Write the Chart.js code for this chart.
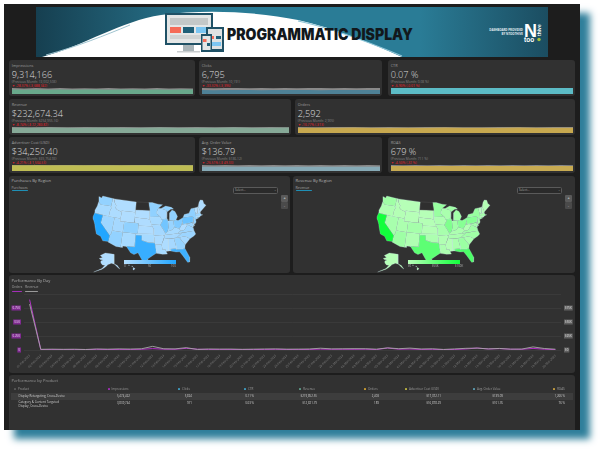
<!DOCTYPE html>
<html>
<head>
<meta charset="utf-8">
<title>Programmatic Display</title>
<script src="https://cdn.jsdelivr.net/npm/chart.js@4/dist/chart.umd.min.js"></script>
<style>
html, body { margin: 0; padding: 0; background: #fff; width: 600px; height: 450px; overflow: hidden; font-family: "Open Sans", sans-serif; }
#frame { position: absolute; left: 4px; top: 4px; width: 576px; height: 426px; background: #1d1d1d; box-shadow: 10px 9px 7px #2f7f9b; }
.box { position: absolute; background: #313131; border-radius: 3px; }
.txt { position: absolute; white-space: nowrap; line-height: 1; }
canvas { position: absolute; display: block; }
svg { position: absolute; left: 36px; top: 7px; }
</style>
</head>
<body>
<div id="frame"></div>
<svg width="512" height="50" viewBox="0 0 512 50">
  <defs>
    <linearGradient id="teal" x1="0" x2="1" y1="0" y2="0">
      <stop offset="0" stop-color="#163f50"/>
      <stop offset="0.35" stop-color="#2a7c96"/>
      <stop offset="0.75" stop-color="#2a7c96"/>
      <stop offset="1" stop-color="#1b4d61"/>
    </linearGradient>
  </defs>
  <rect width="512" height="50" fill="url(#teal)"/>
  <path d="M6 50 C50 38 85 14 125 8 C170 2 225 5 262 13 C300 22 335 36 366 50 Z" fill="#fff"/>
  <path d="M10 48 C40 40 70 28 94 18" stroke="#9fc4d0" stroke-width="1" fill="none"/>
  <path d="M262 14 C300 22 335 36 366 49" stroke="#8fc6d8" stroke-width="1.2" fill="none"/>
  <!-- devices -->
  <rect x="129" y="6" width="48" height="32" fill="#1f5166"/>
  <rect x="131" y="8" width="44" height="28" fill="#e4e6e6"/>
  <rect x="134" y="11" width="38" height="7" fill="#c4c8c8"/>
  <rect x="134" y="20" width="11" height="6" fill="#f56b57"/>
  <rect x="147" y="20" width="11" height="6" fill="#1f5f78"/>
  <rect x="160" y="20" width="10" height="6" fill="#7cc6f2"/>
  <rect x="134" y="28" width="36" height="4" fill="#d0d3d3"/>
  <rect x="147" y="38" width="11" height="6" fill="#a9b4b8"/>
  <rect x="141" y="44" width="23" height="1.5" fill="#c9cdcf"/>
  <rect x="170" y="20" width="18" height="25" fill="#1f5166"/>
  <rect x="172" y="22" width="14" height="20" fill="#dfe2e2"/>
  <rect x="173" y="29" width="5" height="3" fill="#f56b57"/>
  <rect x="180" y="29" width="5" height="3" fill="#1f5f78"/>
  <rect x="173" y="35" width="12" height="4" fill="#7cc6f2"/>
  <rect x="165" y="27" width="11" height="18" fill="#1f5166"/>
  <rect x="166.5" y="29" width="8" height="14" fill="#e4e6e6"/>
  <rect x="167" y="32" width="3.5" height="3" fill="#f56b57"/>
  <rect x="171" y="36" width="3" height="3" fill="#1f5f78"/>
  <text x="191" y="33" textLength="186" lengthAdjust="spacingAndGlyphs" font-family="Inter" font-weight="900" font-size="15.5" fill="#12181c">PROGRAMMATIC DISPLAY</text>
  <text x="487" y="24" text-anchor="end" font-family="Open Sans" font-weight="700" font-size="2.9" fill="#e6eef1">DASHBOARD PROVIDED</text>
  <text x="487" y="28" text-anchor="end" font-family="Open Sans" font-weight="700" font-size="2.9" fill="#e6eef1">BY NTOOTHIVE</text>
  <text x="488" y="29.5" font-family="Liberation Sans" font-weight="700" font-size="18" fill="#fff">N</text>
  <text x="488" y="35" font-family="Liberation Sans" font-weight="700" font-size="6.5" fill="#fff">too</text>
  <text transform="translate(505 29) rotate(-90)" font-family="Liberation Sans" font-weight="700" font-size="5" fill="#fff">thive</text>
  <circle cx="503" cy="32.5" r="1.7" fill="#a5c23a"/>
</svg>

<script>
// kpi cards
const kpiTitles = ["Impressions", "Clicks", "CTR", "Revenue", "Orders", "Advertiser Cost (USD)", "Avg. Order Value", "ROAS"];
const kpiValues = ["9,314,166", "6,795", "0.07 %", "$232,674.34", "2,592", "$34,250.40", "$136.79", "679 %"];
const kpiPrevious = ["13,002,508", "10,191", "0.08 %", "$254,955.16", "2,905", "$35,754.93", "$186.12", "711 %"];
const kpiChanges = ["-28.37% (-3,688,342)", "-33.32% (-3,396)", "-6.90% (-0.01 %)", "-8.74% (-$ 22,280.82)", "-10.77% (-313)", "-4.21% (-$ 1,504.53)", "-26.51% (-$ 49.33)", "-4.50% (-32 %)"];
const kpiColors = ["#68a98b", "#4e8196", "#5cbcc6", "#86a997", "#c7a84f", "#bfbd54", "#86aab6", "#c8ab52"];

const impressionsNow = [192, 190, 193, 191, 194, 190, 192, 193, 191, 194, 192, 190, 193, 191, 192, 194];
const impressionsPrev = [262, 240, 258, 236, 260, 244, 255, 238, 262, 242, 256, 240, 260, 238, 254, 244];
const clicksNow = [140, 138, 142, 139, 141, 138, 140, 142, 139, 141, 138, 140, 142, 139, 140, 141];
const clicksPrev = [212, 205, 210, 214, 206, 212, 208, 214, 204, 210, 212, 206, 214, 208, 210, 212];
const ctrNow = [7, 7, 7, 7, 7, 7, 7, 7, 7, 7, 7, 7, 7, 7, 7, 7];
const ctrPrev = [7, 7, 7, 7, 7, 7, 7, 7, 7, 7, 7, 7, 7, 7, 7, 7];
const revenueNow = [47, 47, 48, 47, 47, 48, 47, 47, 48, 47, 47, 47, 48, 47, 47, 48];
const revenuePrev = [52, 50, 53, 50, 52, 51, 53, 50, 52, 50, 53, 51, 52, 50, 53, 51];
const ordersNow = [54, 53, 54, 55, 54, 53, 54, 53, 55, 54, 53, 54, 55, 54, 53, 54];
const ordersPrev = [60, 58, 60, 61, 59, 60, 58, 61, 60, 59, 58, 60, 61, 59, 60, 61];
const costNow = [71, 71, 72, 71, 71, 72, 71, 71, 72, 71, 71, 71, 72, 71, 71, 72];
const costPrev = [74, 73, 75, 73, 74, 75, 73, 74, 74, 73, 75, 74, 73, 75, 74, 73];
const aovNow = [136, 135, 137, 136, 137, 135, 136, 137, 136, 135, 137, 136, 137, 135, 136, 137];
const aovPrev = [186, 180, 188, 182, 186, 184, 188, 180, 186, 182, 188, 184, 186, 180, 188, 182];
const roasNow = [679, 678, 680, 679, 680, 678, 679, 680, 679, 678, 680, 679, 680, 678, 679, 680];
const roasPrev = [800, 780, 810, 790, 805, 785, 800, 790, 810, 780, 805, 790, 800, 785, 810, 790];

// performance by day
const dayLabels = ["01-Feb-2023", "02-Feb-2023", "03-Feb-2023", "04-Feb-2023", "05-Feb-2023", "06-Feb-2023", "07-Feb-2023", "08-Feb-2023", "09-Feb-2023", "10-Feb-2023", "11-Feb-2023", "12-Feb-2023", "13-Feb-2023", "14-Feb-2023", "15-Feb-2023", "16-Feb-2023", "17-Feb-2023", "18-Feb-2023", "19-Feb-2023", "20-Feb-2023", "21-Feb-2023", "22-Feb-2023", "23-Feb-2023", "24-Feb-2023", "25-Feb-2023", "26-Feb-2023", "27-Feb-2023", "28-Feb-2023", "01-Mar-2023", "02-Mar-2023", "03-Mar-2023", "04-Mar-2023", "05-Mar-2023", "06-Mar-2023", "07-Mar-2023", "08-Mar-2023", "09-Mar-2023", "10-Mar-2023", "11-Mar-2023", "12-Mar-2023", "13-Mar-2023", "14-Mar-2023", "15-Mar-2023", "16-Mar-2023", "17-Mar-2023", "18-Mar-2023", "19-Mar-2023", "20-Mar-2023"];
const ordersByDay = [900, 6, 8, 6, 8, 5, 12, 8, 10, 9, 12, 25, 14, 12, 30, 14, 10, 10, 9, 8, 8, 10, 12, 9, 8, 10, 16, 12, 13, 12, 14, 8, 35, 14, 18, 10, 12, 6, 10, 18, 35, 18, 24, 14, 12, 28, 14, 6];
const revenueByDay = [82000, 1200, 1500, 1200, 1400, 900, 1800, 1500, 2000, 1700, 2200, 6500, 2200, 2000, 4200, 1000, 1800, 1600, 1700, 1200, 1500, 1800, 2000, 1500, 1600, 1800, 3200, 2000, 2200, 2400, 2300, 1500, 3800, 2300, 3400, 1800, 2200, 1000, 1900, 3000, 3400, 2000, 2800, 1500, 1700, 5500, 2700, 1400];
const ordersTicks = ["0", "0.25K", "0.5K", "0.75K", ""];
const revenueTicks = ["$0", "$25K", "$50K", "$75K", ""];

// table
const productColumns = ["Product", "Impressions", "Clicks", "CTR", "Revenue", "Orders", "Advertiser Cost (USD)", "Avg. Order Value", "ROAS"];
const rowOneValues = ["Display Retargeting, Cross-Device", "5,474,422", "5,824", "0.11 %", "$219,852.55", "2,403", "$17,372.11", "$139.09", "1,266 %"];
const rowTwoValues = ["Category & Content Targeted|Display, Cross-Device", "3,839,744", "971", "0.03 %", "$12,821.79", "189", "$16,878.29", "$101.76", "76 %"];

// states, Alaska and Hawaii last; some states have more than one outline
const stateCodes = ["WA", "OR", "CA", "NV", "ID", "MT", "WY", "UT", "AZ", "CO", "NM", "ND", "SD", "NE", "KS", "OK", "TX", "MN", "IA", "MO", "AR", "LA", "WI", "IL", "MI", "MI", "IN", "OH", "KY", "TN", "MS", "AL", "GA", "FL", "SC", "NC", "VA", "WV", "MD", "DE", "PA", "NJ", "NY", "VT", "NH", "ME", "MA", "CT", "RI", "AK", "HI", "HI", "HI", "HI"];
const purchasesValues = [22, 8, 100, 14, 4, 2, 2, 10, 22, 24, 8, null, 2, 3, 3, 8, 85, 24, 8, 10, 5, 8, 10, 45, 24, 24, 18, 35, 8, 10, 4, 10, 20, 80, 10, 16, 16, 3, 18, 3, 50, 20, 25, 2, 3, 3, 15, 8, 3, 2, 3, 3, 3, 3];
const revenueValues = [15, 6, 100, 10, 3, 2, 2, 8, 16, 12, 6, null, 2, 3, 3, 7, 55, 20, 6, 10, 5, 8, 9, 35, 15, 15, 14, 30, 8, 9, 3, 9, 18, 65, 9, 15, 15, 3, 13, 2, 30, 14, 20, 2, 3, 3, 12, 7, 2, 2, 2, 2, 2, 2];
const stateOutlines = [
  [[-124.7,48.4],[-123,48.2],[-122.8,49],[-117,49],[-117,46],[-119,45.9],[-121.2,45.7],[-122.3,45.6],[-123.5,46.2],[-124,46.3]],
  [[-124,46.3],[-123.5,46.2],[-122.3,45.6],[-121.2,45.7],[-119,45.9],[-117,46],[-116.5,45.5],[-117,44.3],[-117,42],[-124.2,42],[-124.5,43],[-124,44.8]],
  [[-124.2,42],[-120,42],[-120,39],[-114.6,35],[-114.7,32.7],[-117.1,32.5],[-118.5,34],[-120.6,34.5],[-122,36.8],[-122.5,37.8],[-123.8,39.5],[-124.4,40.4]],
  [[-120,42],[-114,42],[-114,36.2],[-114.6,35],[-120,39]],
  [[-117,49],[-116,49],[-116,48],[-114.4,46.6],[-114.5,45.6],[-113.5,45.1],[-111,44.5],[-111,42],[-117,42],[-117,44.3],[-116.5,45.5],[-117,46]],
  [[-116,49],[-104,49],[-104,45],[-111,45],[-111,44.5],[-113.5,45.1],[-114.5,45.6],[-114.4,46.6],[-116,48]],
  [[-111,45],[-104,45],[-104,41],[-111,41]],
  [[-114,42],[-111,42],[-111,41],[-109,41],[-109,37],[-114,37]],
  [[-114,37],[-109,37],[-109,31.3],[-111,31.3],[-114.8,32.5],[-114.7,32.7],[-114.6,35],[-114,36.2]],
  [[-109,41],[-102,41],[-102,37],[-109,37]],
  [[-109,37],[-103,37],[-103,32],[-106.6,32],[-106.5,31.8],[-108.2,31.8],[-108.2,31.3],[-109,31.3]],
  [[-104,49],[-97.2,49],[-96.6,46],[-104,46]],
  [[-104,46],[-96.6,46],[-96.5,42.5],[-98,42.8],[-104,43]],
  [[-104,43],[-98,42.8],[-96.5,42.5],[-95.3,40],[-102,40],[-102,41],[-104,41]],
  [[-102,40],[-95.3,40],[-94.6,39],[-94.6,37],[-102,37]],
  [[-103,37],[-94.6,37],[-94.4,35.4],[-94.5,33.7],[-97,33.8],[-100,34.6],[-100,36.5],[-103,36.5]],
  [[-106.6,32],[-103,32],[-103,36.5],[-100,36.5],[-100,34.6],[-97,33.8],[-94.5,33.7],[-94,33],[-93.8,31.5],[-93.7,29.7],[-95,29],[-97.3,27.5],[-97.2,26],[-99.2,26.5],[-101.4,29.8],[-103,29],[-104.5,29.6],[-106.5,31.8]],
  [[-97.2,49],[-95.2,49],[-92,48.3],[-89.6,48],[-92,46.7],[-92.8,45.5],[-92.8,44.7],[-91.2,43.5],[-96.5,43.5],[-96.6,46]],
  [[-96.5,43.5],[-91.2,43.5],[-90.2,41.8],[-91.4,40.4],[-95.7,40.6],[-96.5,42.5]],
  [[-95.7,40.6],[-91.4,40.4],[-90.2,38.8],[-89.2,37],[-89.7,36],[-90.4,36.5],[-94.6,36.5],[-94.6,39],[-95.3,40]],
  [[-94.6,36.5],[-90.4,36.5],[-89.7,36],[-91.2,33],[-94,33],[-94.5,33.7],[-94.4,35.4]],
  [[-94,33],[-91.2,33],[-91,31],[-89.7,31],[-89.5,30.2],[-89,29.2],[-91,29.2],[-93.7,29.7],[-93.8,31.5]],
  [[-92,46.7],[-90.5,46.6],[-88,45.8],[-87.6,45.1],[-87.9,43],[-87.8,42.5],[-90.6,42.5],[-91.2,43.5],[-92.8,44.7],[-92.8,45.5]],
  [[-90.6,42.5],[-87.8,42.5],[-87.5,41.7],[-87.5,39.3],[-88.1,37.8],[-89.2,37],[-90.2,38.8],[-91.4,40.4],[-90.2,41.8]],
  [[-86.8,41.8],[-84.8,41.7],[-83.5,41.7],[-82.5,43],[-82.9,44],[-83.4,45],[-84.8,45.7],[-86.2,44.7],[-86.3,43]],
  [[-90.5,46.6],[-88,47.4],[-85,46.7],[-84,46],[-85.5,46],[-87.6,45.1],[-88,45.8]],
  [[-87.5,41.7],[-84.8,41.7],[-84.8,39.1],[-85.5,38.5],[-86.5,38],[-88.1,37.8],[-87.5,39.3]],
  [[-84.8,41.7],[-83.5,41.7],[-82.5,41.4],[-80.5,42],[-80.5,40.6],[-81.7,39],[-82.6,38.4],[-84.8,39.1]],
  [[-89.4,36.5],[-83.7,36.6],[-82,37.5],[-82.6,38.4],[-84.8,39.1],[-85.5,38.5],[-86.5,38],[-88.1,37.8],[-89.2,37]],
  [[-90.1,35],[-84.3,35],[-81.7,36.6],[-83.7,36.6],[-89.4,36.5],[-89.7,36]],
  [[-91.2,33],[-90.1,35],[-88.2,35],[-88.4,30.3],[-89.5,30.2],[-89.7,31],[-91,31]],
  [[-88.2,35],[-85.6,35],[-85,32],[-85,31],[-87.6,31],[-87.5,30.3],[-88.4,30.3]],
  [[-85.6,35],[-83.1,35],[-81,32],[-81.4,30.7],[-82.2,30.5],[-84.9,30.7],[-85,32]],
  [[-87.6,31],[-85,31],[-84.9,30.7],[-82.2,30.5],[-81.4,30.7],[-80,27],[-80.4,25.2],[-81.2,25.2],[-82.7,28],[-83.8,29.6],[-85.3,29.7],[-87.5,30.3]],
  [[-83.1,35],[-81,35.1],[-79.7,34.8],[-78.5,33.9],[-81,32]],
  [[-84.3,35],[-83.1,35],[-81,35.1],[-79.7,34.8],[-78.5,33.9],[-76.5,34.7],[-75.5,35.3],[-75.9,36.6],[-81.7,36.6]],
  [[-83.7,36.6],[-75.9,36.6],[-76,37.9],[-77.2,38.5],[-78.3,39.4],[-80.3,37.5],[-82,37.5]],
  [[-82.6,38.4],[-82,37.5],[-80.3,37.5],[-78.3,39.4],[-79.5,39.7],[-80.5,39.7],[-80.5,40.6],[-81.7,39]],
  [[-79.5,39.7],[-75.8,39.7],[-75.7,38.5],[-76,38],[-77.2,38.5],[-78.3,39.4]],
  [[-75.8,39.7],[-75.4,39.8],[-75.1,38.4],[-75.7,38.5]],
  [[-80.5,42],[-79.8,42.3],[-75.3,42],[-74.7,41.4],[-75.4,39.8],[-80.5,39.7]],
  [[-74.7,41.4],[-74,41],[-74,39.7],[-74.9,38.9],[-75.4,39.8]],
  [[-79.8,42.3],[-79,43.3],[-76.5,43.5],[-75,45],[-73.3,45],[-73.3,42.7],[-73.5,41.2],[-72,41],[-74,40.6],[-74,41],[-74.7,41.4],[-75.3,42]],
  [[-73.3,45],[-71.5,45],[-72.5,42.7],[-73.3,42.7]],
  [[-71.5,45],[-71,45.3],[-70.7,43],[-71,42.7],[-72.5,42.7]],
  [[-71,45.3],[-70,46.7],[-69,47.4],[-67.8,47],[-67.8,45.7],[-67,44.8],[-70.7,43]],
  [[-73.3,42.7],[-71,42.7],[-70.7,42],[-70,41.7],[-71.4,41.5],[-73.5,42]],
  [[-73.5,42],[-71.8,42],[-71.8,41.3],[-73.6,41]],
  [[-71.8,42],[-71.4,42],[-71.2,41.5],[-71.8,41.3]],
  [[-141,69.7],[-141,60.2],[-135,58.5],[-130.5,55],[-133,56],[-137,58],[-140,59.8],[-146,60.7],[-149,60],[-152,59.5],[-154,58.3],[-158,56.5],[-163,54.8],[-178,52],[-163,55.4],[-157.5,58.7],[-162,59],[-165,61],[-165,63],[-161,64],[-166,64.6],[-168,65.6],[-162,66.5],[-166,68.5],[-157,71],[-150,70.5]],
  [[-155.9,20.2],[-155,19.7],[-155.6,19],[-156,19.6]],
  [[-156.7,21],[-156,20.8],[-156.4,20.6]],
  [[-158.2,21.6],[-157.7,21.4],[-158.1,21.3]],
  [[-159.7,22.2],[-159.3,22.1],[-159.5,21.9]]
];

const frame = document.body;

function addBox(left, top, width, height) {
  const el = document.createElement("div");
  el.className = "box";
  el.style.cssText = `left:${left}px;top:${top}px;width:${width}px;height:${height}px`;
  frame.appendChild(el);
  return el;
}

function addText(text, left, top, size, color, extra) {
  const el = document.createElement("div");
  el.className = "txt";
  el.textContent = text;
  el.style.cssText = `left:${left}px;top:${top}px;font-size:${size}px;color:${color};${extra || ""}`;
  frame.appendChild(el);
  return el;
}

function addCanvas(left, top, width, height) {
  const c = document.createElement("canvas");
  c.width = width;
  c.height = height;
  c.style.cssText = `left:${left}px;top:${top}px;width:${width}px;height:${height}px`;
  frame.appendChild(c);
  return c;
}

function drawSparkline(left, top, width, height, now, prev, color) {
  new Chart(addCanvas(left, top, width, height), {
    type: "line",
    data: {
      labels: now.map((_, i) => i),
      datasets: [
        { data: now, borderWidth: 0, backgroundColor: color, fill: "origin", pointRadius: 0, order: 1 },
        { data: prev, borderWidth: 0, backgroundColor: "#8a8a8a", fill: "origin", pointRadius: 0, order: 2 }
      ]
    },
    options: {
      responsive: false,
      animation: false,
      plugins: { legend: { display: false }, tooltip: { enabled: false } },
      layout: { padding: 0 },
      scales: {
        x: { display: false },
        y: { display: false, min: 0, max: Math.max(...prev, ...now) }
      }
    }
  });
}

const kpiBoxes = [
  [9, 60, 186, 36], [199, 60, 183, 36], [388, 60, 187, 36],
  [9, 99, 282, 36], [295, 99, 280, 36],
  [9, 137, 186, 36], [199, 137, 183, 36], [388, 137, 187, 36]
];
const kpiTrends = [
  [impressionsNow, impressionsPrev], [clicksNow, clicksPrev], [ctrNow, ctrPrev],
  [revenueNow, revenuePrev], [ordersNow, ordersPrev],
  [costNow, costPrev], [aovNow, aovPrev], [roasNow, roasPrev]
];

kpiBoxes.forEach(([left, top, width, height], i) => {
  addBox(left, top, width, height);
  const x = left + 2.7;
  addText(kpiTitles[i], x, top + 4, 3.8, "#9c9c9c");
  addText(kpiValues[i], x, top + 10, 9.2, "#dcdcdc", "font-weight:300");
  addText("(Previous Month: " + kpiPrevious[i] + ")", x, top + 20.4, 3.3, "#858585");
  addText("▼ " + kpiChanges[i], x, top + 24.4, 3.3, "#c9242c", "font-weight:600");
  drawSparkline(Math.round(x), top + 28, width - 5, 6, kpiTrends[i][0], kpiTrends[i][1], kpiColors[i]);
});

function albers(lon, lat) {
  const rad = Math.PI / 180;
  const phi1 = 29.5 * rad, phi2 = 45.5 * rad, phi0 = 37.5 * rad;
  const n = (Math.sin(phi1) + Math.sin(phi2)) / 2;
  const c = Math.cos(phi1) ** 2 + 2 * n * Math.sin(phi1);
  const rho = p => Math.sqrt(c - 2 * n * Math.sin(p)) / n;
  const theta = n * (lon + 96) * rad;
  const r = rho(lat * rad);
  return { x: r * Math.sin(theta), y: rho(phi0) - r * Math.cos(theta) };
}

function blend(from, to, t) {
  const mix = from.map((v, i) => Math.round(v + (to[i] - v) * t));
  return `rgb(${mix[0]},${mix[1]},${mix[2]})`;
}

function drawMap(left, top, values, light, strong) {
  const width = 124, height = 84;
  const lower48 = stateOutlines.slice(0, 49).flat().map(p => albers(p[0], p[1]));
  const xs = lower48.map(p => p.x), ys = lower48.map(p => p.y);
  const x0 = Math.min(...xs), x1 = Math.max(...xs), y0 = Math.min(...ys), y1 = Math.max(...ys);
  const kx = (x1 - x0) / 113, ky = (y1 - y0) / 67;
  const xMin = x0 - 5 * kx, yMax = y1 + 6 * ky;

  const toMapPoint = (point, i) => {
    const code = stateCodes[i];
    if (code === "AK") {
      return { x: xMin + (20 + (point[0] + 152) * 0.55) * kx, y: yMax - (71 - (point[1] - 63)) * ky };
    }
    if (code === "HI") {
      return { x: xMin + (42 + (point[0] + 157.5) * 2) * kx, y: yMax - (77 - (point[1] - 20.5) * 2) * ky };
    }
    return albers(point[0], point[1]);
  };

  const datasets = stateOutlines.map((outline, i) => {
    const points = outline.concat([outline[0]]).map(p => toMapPoint(p, i));
    const value = values[i];
    return {
      label: stateCodes[i],
      data: points,
      showLine: true,
      fill: "shape",
      tension: 0,
      pointRadius: 0,
      borderWidth: 0.4,
      borderColor: value === null ? "#555" : "rgba(205,225,235,0.6)",
      backgroundColor: value === null ? "#2f2f2f" : blend(light, strong, value / 100)
    };
  });

  new Chart(addCanvas(left, top, width, height), {
    type: "scatter",
    data: { datasets: datasets },
    options: {
      responsive: false,
      animation: false,
      plugins: { legend: { display: false }, tooltip: { enabled: false } },
      layout: { padding: 0 },
      scales: {
        x: { display: false, min: xMin, max: xMin + width * kx },
        y: { display: false, max: yMax, min: yMax - height * ky }
      }
    }
  });
}

function drawRegion(left, width, title, tab, values, light, strong, legendTicks) {
  addBox(left, 176, width, 97);
  addText(title, left + 2.5, 179, 4.1, "#b4b4b4");
  addText(tab, left + 2.5, 186, 3.4, "#a0a0a0");
  const line = addBox(left + 2.5, 190.3, 16, 0.7);
  line.style.background = "#1f8fb5";
  drawMap(left + 79, 190, values, light, strong);

  const bar = addBox(left + 115, 260, 52, 3.5);
  bar.style.borderRadius = "0";
  bar.style.background = `linear-gradient(90deg, ${blend(light, strong, 0)}, ${blend(light, strong, 1)})`;
  addText(legendTicks[0], left + 115, 265, 2.8, "#b5b5b5");
  addText(legendTicks[1], left + 139, 265, 2.8, "#b5b5b5");
  addText(legendTicks[2], left + 162, 265, 2.8, "#b5b5b5");

  const select = addBox(left + 224, 187, 45, 7);
  select.style.cssText += ";background:#2a2a2a;border:0.6px solid #5a5a5a;box-sizing:border-box;border-radius:1.5px";
  addText("Select...", left + 226, 189, 3, "#a8a8a8");
  addText("⌄", left + 265, 188.5, 3, "#a8a8a8");

  const plus = addBox(left + 272, 195, 7, 7);
  plus.style.cssText += ";background:#5a5a5a;border-radius:1px";
  const minus = addBox(left + 272, 202.4, 7, 7);
  minus.style.cssText += ";background:#4a4a4a;border-radius:1px";
  addText("+", left + 274.4, 196.3, 4.2, "#eee");
  addText("-", left + 274.7, 203.6, 4.2, "#ccc");
}

drawRegion(9, 281, "Purchases By Region", "Purchases", purchasesValues, [179, 222, 255], [34, 166, 255], ["0", "50", "100"]);
drawRegion(293, 282, "Revenue By Region", "Revenue", revenueValues, [185, 255, 185], [18, 255, 60], ["$0", "$50K", "$100K"]);

// performance by day
addBox(9, 275, 566, 98);
addText("Performance By Day", 11.5, 279, 4.1, "#b4b4b4");
addText("Orders", 11.7, 285.4, 3.3, "#a0a0a0");
addText("Revenue", 25, 285.4, 3.3, "#a0a0a0");
addBox(11.5, 290.5, 10.5, 0.7).style.background = "#a32fb8";
addBox(25, 290.5, 13, 0.7).style.background = "#9a9a9a";

function fitWidth(size) {
  return scale => { scale.width = size; };
}

new Chart(addCanvas(9, 288, 566, 85), {
  type: "line",
  data: {
    labels: dayLabels,
    datasets: [
      { label: "Orders", data: ordersByDay, yAxisID: "y", borderColor: "#b22fc6", borderWidth: 1, pointRadius: 0, tension: 0, order: 2 },
      { label: "Revenue", data: revenueByDay, yAxisID: "yRevenue", borderColor: "#a8a8a8", borderWidth: 0.9, pointRadius: 0, tension: 0, order: 1 }
    ]
  },
  options: {
    responsive: false,
    animation: false,
    plugins: { legend: { display: false }, tooltip: { enabled: false } },
    layout: { padding: { top: 6 } },
    scales: {
      x: {
        offset: true,
        grid: { display: false, drawTicks: false },
        border: { display: false },
        afterFit: scale => { scale.height = 23; },
        ticks: { autoSkip: false, minRotation: 45, maxRotation: 45, padding: 4, font: { size: 3, family: "Open Sans" }, color: "#808080" }
      },
      y: {
        position: "left",
        min: 0,
        max: 1000,
        afterFit: fitWidth(15),
        grid: { color: "#414141", lineWidth: 0.6, drawTicks: false },
        border: { display: false },
        ticks: {
          stepSize: 250,
          padding: 4,
          font: { size: 2.9, family: "Open Sans" },
          color: "#e8d4ec",
          showLabelBackdrop: true,
          backdropPadding: { x: 1, y: 0.8 },
          backdropColor: c => c.index === 4 ? "rgba(0,0,0,0)" : "#7f2a90",
          callback: (value, i) => ordersTicks[i]
        }
      },
      yRevenue: {
        position: "right",
        min: 0,
        max: 100000,
        afterFit: fitWidth(14),
        grid: { display: false, drawTicks: false },
        border: { display: false },
        ticks: {
          stepSize: 25000,
          padding: 4,
          font: { size: 2.9, family: "Open Sans" },
          color: "#e4e4e4",
          showLabelBackdrop: true,
          backdropPadding: { x: 1, y: 0.8 },
          backdropColor: c => c.index === 4 ? "rgba(0,0,0,0)" : "#5f5f5f",
          callback: (value, i) => revenueTicks[i]
        }
      }
    }
  }
});

// performance by product
addBox(9, 375, 566, 55).style.borderRadius = "3px 3px 0 0";
addText("Performance by Product", 11.5, 378.5, 4.1, "#9c9c9c");

const headerLefts = [18, 111.5, 182, 248, 303, 368, 409, 477, 557];
const valueRights = [0, 130, 192, 254, 317, 379, 441, 503, 565];
const swatchColors = ["#5a5a5a", "#a32fb8", "#3f9fc4", "#3f9fc4", "#5f9c8a", "#d0a030", "#c0b840", "#5b9fb5", "#c8a040"];

const band = addBox(11, 393, 562, 7);
band.style.cssText += ";background:#3d3d3d;border-radius:0";

productColumns.forEach((name, i) => {
  const swatch = addBox(headerLefts[i] - 4, 387.8, 2.2, 2.2);
  swatch.style.background = swatchColors[i];
  swatch.style.borderRadius = "0.4px";
  addText(name, headerLefts[i], 387.7, 3, "#9b9b9b");
  if (i === 0) return;
  const right = 600 - valueRights[i];
  addText(rowOneValues[i], 0, 395.2, 2.9, "#cfcfcf", `left:auto;right:${right}px`);
  addText(rowTwoValues[i], 0, 402, 2.9, "#cfcfcf", `left:auto;right:${right}px`);
});
addText(rowOneValues[0], 18.5, 395.2, 3, "#cfcfcf");
rowTwoValues[0].split("|").forEach((line, i) => addText(line, 18.5, 401 + i * 4, 3, "#cfcfcf"));
</script>
</body>
</html>
